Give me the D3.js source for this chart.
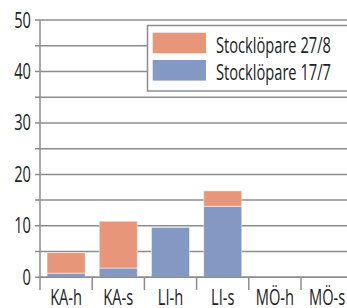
<!DOCTYPE html>
<html><head><meta charset="utf-8">
<script src="https://cdn.jsdelivr.net/npm/d3@7"></script>
<style>
html,body{margin:0;padding:0;background:#fff;overflow:hidden;}
svg{display:block;}
text{font-family:"Open Sans","Noto Sans",sans-serif;fill:#222;}
</style></head>
<body>
<script>
const categories = ["KA-h","KA-s","LI-h","LI-s","MÖ-h","MÖ-s"];
const seriesNames = ["Stocklöpare 17/7","Stocklöpare 27/8"];
const s1707 = [0.8, 1.8, 9.7, 13.8, 0, 0];
const s2708 = [4.0, 9.1, 0, 3.0, 0, 0];
const yTickLabels = [0,10,20,30,40,50];
const yGridValues = [0,5,10,15,20,25,30,35,40,45,50];
const colors = ["#8399c4","#e8967a"];

(function(){
const W=347,H=308;
const FS=21;
const svg=d3.select("body").append("svg").attr("width",W).attr("height",H);

// horizontal condensing factor so the legend text spans ~115px
const probe=svg.append("text").attr("font-size",FS).text(seriesNames[1]);
const k=115/probe.node().getComputedTextLength();
probe.remove();

const mLeft=40, mTop=20, mBottom=277.3, mRight=353.2;
const y=d3.scaleLinear().domain([0,50]).range([mBottom,mTop]);
const xb=d3.scaleBand().domain(categories).range([mLeft,mRight]).padding(0);
const x=d3.scaleBand().domain(categories).range([mLeft,mRight]).paddingInner(0.27).paddingOuter(0.135);

const grid="#8c8c8c";
svg.append("g").selectAll("line").data(yGridValues).join("line")
  .attr("x1",35).attr("x2",W).attr("y1",d=>y(d)).attr("y2",d=>y(d))
  .attr("stroke",grid).attr("stroke-width",1.5);

const rows=categories.map((c,i)=>({cat:c,a:s1707[i],b:s2708[i]}));
const stack=d3.stack().keys(["a","b"])(rows);
svg.append("g").selectAll("g").data(stack).join("g")
  .attr("fill",(d,i)=>colors[i])
  .selectAll("rect").data(d=>d.filter(p=>p[1]-p[0]>0)).join("rect")
  .attr("x",d=>x(d.data.cat)).attr("width",x.bandwidth())
  .attr("y",d=>y(d[1])).attr("height",d=>y(d[0])-y(d[1]))
  .attr("stroke","#fff").attr("stroke-opacity",0.5).attr("stroke-width",1);

svg.append("line").attr("x1",mLeft).attr("x2",W).attr("y1",mBottom).attr("y2",mBottom)
  .attr("stroke",grid).attr("stroke-width",1.5);
svg.append("line").attr("x1",mLeft).attr("x2",mLeft).attr("y1",mTop).attr("y2",290)
  .attr("stroke",grid).attr("stroke-width",1.5);
svg.append("g").selectAll("line").data(categories.slice(1)).join("line")
  .attr("x1",d=>xb(d)).attr("x2",d=>xb(d)).attr("y1",mBottom).attr("y2",290)
  .attr("stroke",grid).attr("stroke-width",1.5);

svg.append("g").selectAll("text").data(yTickLabels).join("text")
  .attr("transform",d=>`translate(31,${y(d)}) scale(${k},1)`)
  .attr("dy","0.36em").attr("text-anchor","end")
  .attr("font-size",FS).text(d=>d);
svg.append("g").selectAll("text").data(categories).join("text")
  .attr("transform",d=>`translate(${xb(d)+xb.bandwidth()/2},305) scale(${k},1)`)
  .attr("text-anchor","middle")
  .attr("font-size",FS).text(d=>d);

const lg=svg.append("g");
lg.append("rect").attr("x",147.5).attr("y",25.5).attr("width",W).attr("height",65.5)
  .attr("fill","#fff").attr("stroke",grid).attr("stroke-width",1.5);
const legendItems=[{name:seriesNames[1],color:colors[1]},{name:seriesNames[0],color:colors[0]}];
const li=lg.selectAll("g").data(legendItems).join("g")
  .attr("transform",(d,i)=>`translate(0,${i*27.3})`);
li.append("rect").attr("x",152.7).attr("y",32.7).attr("width",53.3).attr("height",20.6).attr("fill",d=>d.color);
li.append("text").attr("transform",`translate(216,53) scale(${k},1)`).attr("font-size",FS).text(d=>d.name);
})();
</script>
</body></html>
